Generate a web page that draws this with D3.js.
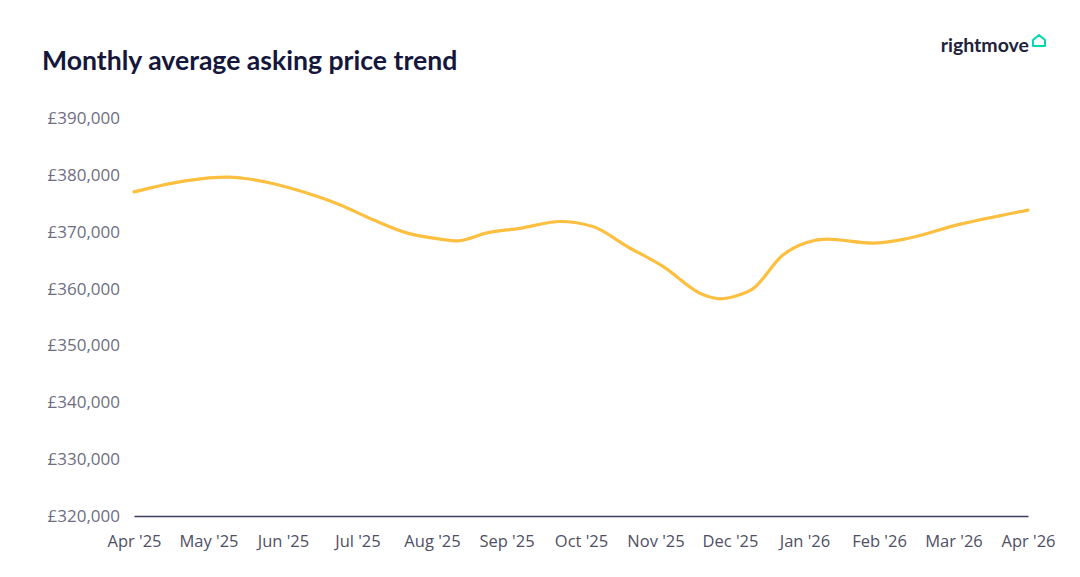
<!DOCTYPE html>
<html><head><meta charset="utf-8">
<script src="https://cdn.jsdelivr.net/npm/d3@7"></script>
<style>body{margin:0;background:#fff;}svg{display:block;}</style>
</head><body>
<svg id="c" width="1080" height="577"></svg>
<script>
const monthLabels = ["Apr '25","May '25","Jun '25","Jul '25","Aug '25","Sep '25","Oct '25","Nov '25","Dec '25","Jan '26","Feb '26","Mar '26","Apr '26"];
const yTicks = [320000,330000,340000,350000,360000,370000,380000,390000];
// position in months since Apr '25
const monthPos = [0,0.71,1.25,1.46,1.89,2.32,2.77,3.21,3.66,4.11,4.34,4.74,5.18,5.72,6.16,6.62,7.10,7.64,7.87,8.13,8.30,8.71,9.03,9.30,9.92,10.38,11.05,12];
const prices   = [377000,379000,379600,379400,378400,376800,374700,372100,369800,368700,368400,369800,370600,371800,370900,367400,363900,358900,358200,358900,359900,365900,368100,368700,368000,368800,371200,373800];

const svg = d3.select("#c");
const x = d3.scaleLinear().domain([0,12]).range([134,1028]);
const y = d3.scaleLinear().domain([320000,390000]).range([516,118]);

svg.append("text").attr("x",42).attr("y",70)
  .attr("font-family","Lato, 'Open Sans', sans-serif").attr("font-weight",700)
  .attr("font-size",26.6).attr("fill","#15163b").text("Monthly average asking price trend");

// logo
const logo = svg.append("g");
logo.append("text").attr("x",1029).attr("y",52).attr("text-anchor","end")
  .attr("font-family","Lato, sans-serif").attr("font-weight",700)
  .attr("font-size",19.5).attr("fill","#22223a").text("rightmove");
logo.append("path").attr("d","M1033,46 L1033,40 L1039,35 L1045,40 L1045,46 Z")
  .attr("fill","none").attr("stroke","#00d9b4").attr("stroke-width",2).attr("stroke-linejoin","round");

const fmt = d => "£" + d3.format(",")(d);
const yAxis = svg.append("g").attr("transform","translate(120,0)")
  .call(d3.axisLeft(y).tickValues(yTicks).tickFormat(fmt).tickSize(0).tickPadding(0));
yAxis.select(".domain").remove();
yAxis.selectAll("text").attr("font-family","'Open Sans', sans-serif").attr("font-size",17).attr("fill","#6e6e82");

const xAxis = svg.append("g").attr("transform","translate(0,516)")
  .call(d3.axisBottom(x).tickValues(d3.range(13)).tickFormat(i=>monthLabels[i]).tickSize(0).tickPadding(19));
xAxis.select(".domain").attr("stroke","#3b3c5e").attr("stroke-width",1.5);
xAxis.selectAll("text").attr("font-family","'Open Sans', sans-serif").attr("font-size",16.5).attr("fill","#4f4f66");

const line = d3.line().x((d,i)=>x(monthPos[i])).y(d=>y(d)).curve(d3.curveMonotoneX);
svg.append("path").datum(prices).attr("d",line).attr("fill","none")
  .attr("stroke","#fdbf3f").attr("stroke-width",3.2).attr("stroke-linecap","round");
</script>
</body></html>
